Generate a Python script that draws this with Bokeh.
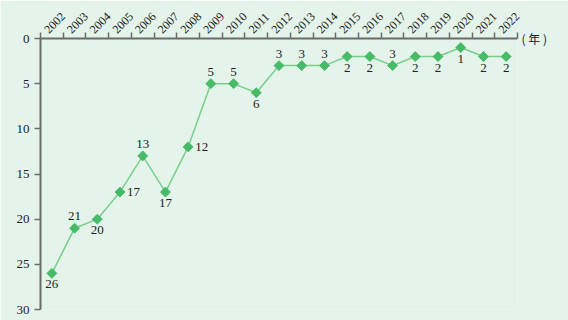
import math
from bokeh.plotting import figure
from bokeh.models import Range1d, FixedTicker, ColumnDataSource, LabelSet, LinearAxis
from bokeh.embed import file_html
from bokeh.resources import INLINE

years = ["2002", "2003", "2004", "2005", "2006", "2007", "2008", "2009", "2010", "2011", "2012",
         "2013", "2014", "2015", "2016", "2017", "2018", "2019", "2020", "2021", "2022"]
ranks = [26, 21, 20, 17, 13, 17, 12, 5, 5, 6, 3, 3, 3, 2, 2, 3, 2, 2, 1, 2, 2]
y_ticks = [0, 5, 10, 15, 20, 25, 30]
unit_text = "( 年 )"
label_side = ["below", "above", "below", "right", "above", "below", "right", "above", "above", "below",
              "above", "above", "above", "below", "below", "above", "below", "below", "below", "below", "below"]

BG = "#e4f4ea"
AXIS = "#6b6b6b"
FONT = "Liberation Serif"
TXT = "#222222"

n = len(years)
xs = list(range(n))

p = figure(width=568, height=320, output_backend="svg", toolbar_location=None,
           x_range=Range1d(-0.5, n - 0.5), y_range=Range1d(30, 0),
           x_axis_location="above", min_border_left=40, min_border_right=51,
           min_border_top=38, min_border_bottom=11)
p.background_fill_color = BG
p.border_fill_color = BG
p.outline_line_color = None
p.grid.visible = False

# x axis (top): labels placed slightly left of category centre so the rotated text is centred
label_pos = [i - 0.25 for i in xs]
xa = p.xaxis[0]
xa.ticker = FixedTicker(ticks=label_pos, minor_ticks=[i - 0.5 for i in range(n + 1)])
xa.major_label_overrides = {pos: y for pos, y in zip(label_pos, years)}
xa.major_label_orientation = math.pi / 4
xa.major_tick_out = 0
xa.major_tick_in = 0
xa.minor_tick_out = 6
xa.minor_tick_in = 0
xa.minor_tick_line_color = AXIS
xa.minor_tick_line_width = 1.5
xa.axis_line_color = AXIS
xa.axis_line_width = 2
xa.major_label_text_font = FONT
xa.major_label_text_font_size = "12px"
xa.major_label_text_color = TXT
xa.major_label_standoff = 1

# y axis (left)
ya = p.yaxis[0]
ya.ticker = FixedTicker(ticks=y_ticks)
ya.minor_tick_line_color = None
ya.major_tick_out = 6
ya.major_tick_in = 0
ya.major_tick_line_color = AXIS
ya.major_tick_line_width = 1.5
ya.axis_line_color = AXIS
ya.axis_line_width = 2
ya.major_label_text_font = FONT
ya.major_label_text_font_size = "13px"
ya.major_label_text_color = TXT
ya.major_label_standoff = 5

# unit label on the right at y = 0
ua = LinearAxis(ticker=FixedTicker(ticks=[0]), major_label_overrides={0: unit_text})
ua.axis_line_color = None
ua.major_tick_line_color = None
ua.minor_tick_line_color = None
ua.major_tick_out = 0
ua.major_label_standoff = 4
ua.major_label_text_font = "Noto Sans CJK SC"
ua.major_label_text_font_size = "12px"
ua.major_label_text_color = TXT
p.add_layout(ua, "right")

p.line(xs, ranks, line_color="#76cf8c", line_width=1.5)
p.scatter(xs, ranks, marker="square", angle=math.pi / 4, size=7,
          fill_color="#48bb68", line_color="#48bb68")

lx, ly, lt, xo, yo, al, bl = [], [], [], [], [], [], []
for i, (r, s) in enumerate(zip(ranks, label_side)):
    lx.append(i)
    ly.append(r)
    lt.append(str(r))
    if s == "above":
        xo.append(0); yo.append(8); al.append("center"); bl.append("bottom")
    elif s == "below":
        xo.append(0); yo.append(-7); al.append("center"); bl.append("top")
    else:
        xo.append(7); yo.append(0); al.append("left"); bl.append("middle")

src = ColumnDataSource(dict(x=lx, y=ly, t=lt, xo=xo, yo=yo, al=al, bl=bl))
labels = LabelSet(x="x", y="y", text="t", x_offset="xo", y_offset="yo", source=src,
                  text_align="al", text_baseline="bl", text_font=FONT,
                  text_font_size="13px", text_color=TXT)
p.add_layout(labels)

open("out.html", "w").write(file_html(p, INLINE))
